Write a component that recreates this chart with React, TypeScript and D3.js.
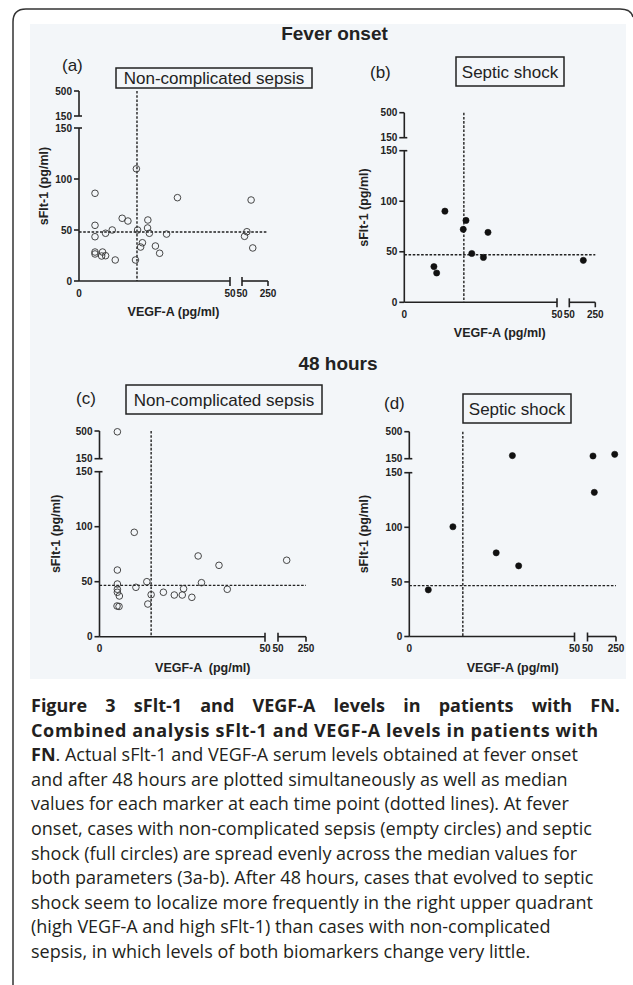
import React from 'react';
import * as d3 from 'd3';

const W = 633;
const H = 985;

// ---------- data ----------
// (a) Fever onset, non-complicated sepsis
const vegfA = [5.3, 19.0, 32.6, 5.3, 5.3, 5.3, 5.3, 7.8, 7.5, 8.8, 8.8, 11.0, 12.0, 14.3, 16.2, 18.7, 19.4, 20.4, 21.0, 22.8, 22.7, 23.3, 25.3, 26.7, 29.0, 69.5, 87.6, 120, 132.7];
const sfltA = [86, 110, 81.7, 54.6, 43.4, 28.4, 26.5, 28.4, 24.5, 24.8, 46.8, 50, 20.6, 61.5, 58.8, 20.6, 50, 33.3, 37.5, 59.8, 52, 46.8, 34.3, 27.2, 46, 43.8, 48.3, 79.4, 32.4];
// (b) Fever onset, septic shock
const vegfB = [13.3, 9.7, 10.6, 19.3, 20.2, 22.1, 25.9, 27.4, 157.7];
const sfltB = [90.2, 35.3, 29, 72.2, 81, 48.3, 44.4, 69.2, 41.5];
// (c) 48 hours, non-complicated sepsis
const vegfC = [5.4, 10.5, 5.4, 5.4, 5.4, 5.4, 6.0, 11.0, 14.3, 15.6, 14.6, 5.3, 5.9, 19.3, 22.6, 25.0, 25.4, 27.9, 29.8, 30.8, 36.1, 38.6, 112];
const sfltC = [490, 94.9, 60.6, 47.9, 43.1, 40.4, 37, 44.9, 50, 38.2, 29.7, 27.9, 27.5, 40.4, 37.9, 37.9, 43.6, 35.8, 73.4, 49.1, 64.9, 43.1, 69.5];
// (d) 48 hours, septic shock
const vegfD = [5.75, 13.2, 26.3, 33.1, 31.2, 88.6, 97.7, 241];
const sfltD = [42.7, 100.5, 76.6, 64.7, 190, 185, 132, 207];

// medians (dotted lines) for panels a, b, c, d
const medianVegf = [19.2, 19.5, 15.6, 16.2];
const medianSflt = [48, 47, 46.7, 46.6];

// ticks / labels
const yLowerTicks = [0, 50, 100, 150];
const yUpperTicks = [150, 500];
const xTickValues = [0, 50, 50, 250];
const xTickLabels = ['0', '50', '50', '250'];
const panelLetters = ['(a)', '(b)', '(c)', '(d)'];
const groupLabels = ['Non-complicated sepsis', 'Septic shock', 'Non-complicated sepsis', 'Septic shock'];
const sectionTitles = ['Fever onset', '48 hours'];
const yTitle = 'sFlt-1 (pg/ml)';
const xTitles = ['VEGF-A (pg/ml)', 'VEGF-A (pg/ml)', 'VEGF-A  (pg/ml)', 'VEGF-A (pg/ml)'];

const captionLines = [
  'Figure 3 sFlt-1 and VEGF-A levels in patients with FN.',
  'Combined analysis sFlt-1 and VEGF-A levels in patients with',
  'FN|. Actual sFlt-1 and VEGF-A serum levels obtained at fever onset',
  'and after 48 hours are plotted simultaneously as well as median',
  'values for each marker at each time point (dotted lines). At fever',
  'onset, cases with non-complicated sepsis (empty circles) and septic',
  'shock (full circles) are spread evenly across the median values for',
  'both parameters (3a-b). After 48 hours, cases that evolved to septic',
  'shock seem to localize more frequently in the right upper quadrant',
  '(high VEGF-A and high sFlt-1) than cases with non-complicated',
  'sepsis, in which levels of both biomarkers change very little.',
];

// ---------- layout (pixels) ----------
const layouts = [
  { ax: 79, x50a: 230, x50b: 242, x250: 268, y0: 281, y150b: 128, y150a: 116, y500: 91,
    letterX: 62, letterY: 71, box: [116, 68, 196, 20], yTitleX: 43 },
  { ax: 404.3, x50a: 557, x50b: 569.3, x250: 595.3, y0: 302.3, y150b: 150.7, y150a: 137.7, y500: 112.7,
    letterX: 370, letterY: 78, box: [456, 57, 108, 29], yTitleX: 363 },
  { ax: 99.5, x50a: 265, x50b: 278, x250: 306, y0: 636.7, y150b: 471.7, y150a: 458.7, y500: 431,
    letterX: 76, letterY: 404, box: [126, 385, 196, 29], yTitleX: 55 },
  { ax: 409.3, x50a: 574.5, x50b: 587.5, x250: 616, y0: 636.5, y150b: 472.7, y150a: 458.7, y500: 431.7,
    letterX: 384, letterY: 409, box: [463, 394, 108, 29], yTitleX: 363 },
];

const INK = '#222';
const FONT = '"Liberation Sans", Arial, sans-serif';
const CAP_FONT = '"Open Sans", sans-serif';

function Panel({ L, vegf, sflt, filled, medX, medY, letter, group, xTitle }: any) {
  const xLo = d3.scaleLinear().domain([0, 50]).range([L.ax, L.x50a]);
  const xHi = d3.scaleLinear().domain([50, 250]).range([L.x50b, L.x250]);
  const yLo = d3.scaleLinear().domain([0, 150]).range([L.y0, L.y150b]);
  const yHi = d3.scaleLinear().domain([150, 500]).range([L.y150a, L.y500]);
  const px = (v: number) => (v <= 50 ? xLo(v) : xHi(v));
  const py = (v: number) => (v <= 150 ? yLo(v) : yHi(v));
  const xTickPos = xTickValues.map((v, i) => (i >= 2 ? xHi(v) : xLo(v)));
  const [bx, by, bw, bh] = L.box;
  const sw = 1.6;
  return (
    <g>
      <text x={L.letterX} y={L.letterY} fontFamily={FONT} fontSize={17} fill={INK}>{letter}</text>
      <rect x={bx} y={by} width={bw} height={bh} fill="none" stroke={INK} strokeWidth={1.5} />
      <text x={bx + bw / 2} y={by + bh / 2 + 6} textAnchor="middle" fontFamily={FONT} fontSize={17} fill={INK}>{group}</text>

      {/* median lines */}
      <line x1={xLo(medX)} x2={xLo(medX)} y1={L.y500} y2={L.y0} stroke={INK} strokeWidth={1.4} strokeDasharray="2.6,1.6" />
      <line x1={L.ax} x2={L.x250} y1={yLo(medY)} y2={yLo(medY)} stroke={INK} strokeWidth={1.4} strokeDasharray="2.6,1.6" />

      {/* y axis */}
      <line x1={L.ax} x2={L.ax} y1={L.y0} y2={L.y150b} stroke={INK} strokeWidth={sw} />
      <line x1={L.ax} x2={L.ax} y1={L.y150a} y2={L.y500} stroke={INK} strokeWidth={sw} />
      {yLowerTicks.map((t, i) => (
        <g key={'yl' + i}>
          <line x1={L.ax - 5} x2={t === 150 ? L.ax + 3 : L.ax} y1={yLo(t)} y2={yLo(t)} stroke={INK} strokeWidth={sw} />
          <text x={L.ax - 7} y={yLo(t) + 3.6} textAnchor="end" fontFamily={FONT} fontSize={10} fontWeight="bold" fill={INK}>{t}</text>
        </g>
      ))}
      {yUpperTicks.map((t, i) => (
        <g key={'yu' + i}>
          <line x1={L.ax - 5} x2={t === 150 ? L.ax + 3 : L.ax} y1={yHi(t)} y2={yHi(t)} stroke={INK} strokeWidth={sw} />
          <text x={L.ax - 7} y={yHi(t) + 3.6} textAnchor="end" fontFamily={FONT} fontSize={10} fontWeight="bold" fill={INK}>{t}</text>
        </g>
      ))}

      {/* x axis */}
      <line x1={L.ax} x2={L.x50a} y1={L.y0} y2={L.y0} stroke={INK} strokeWidth={sw} />
      <line x1={L.x50b} x2={L.x250} y1={L.y0} y2={L.y0} stroke={INK} strokeWidth={sw} />
      {xTickPos.map((x, i) => (
        <g key={'xt' + i}>
          {i > 0 && (
            <line x1={x} x2={x} y1={i === 3 ? L.y0 : L.y0 - 4} y2={L.y0 + 5} stroke={INK} strokeWidth={sw} />
          )}
          <text x={x} y={L.y0 + 15.5} textAnchor="middle" fontFamily={FONT} fontSize={10} fontWeight="bold" fill={INK}>{xTickLabels[i]}</text>
        </g>
      ))}

      {/* axis titles */}
      <text transform={`translate(${L.yTitleX + 4.5},${(L.y0 + L.y500) / 2}) rotate(-90)`} textAnchor="middle"
        fontFamily={FONT} fontSize={12.5} fontWeight="bold" fill={INK}>{yTitle}</text>
      <text x={(L.ax + L.x250) / 2} y={L.y0 + 35} textAnchor="middle" fontFamily={FONT} fontSize={12.5}
        fontWeight="bold" fill={INK} style={{ whiteSpace: 'pre' }}>{xTitle}</text>

      {/* points */}
      {vegf.map((v: number, i: number) => (
        <circle key={'p' + i} cx={px(v)} cy={py(sflt[i])} r={filled ? 3.1 : 3.3}
          fill={filled ? '#111' : 'none'} stroke={filled ? '#111' : '#333'} strokeWidth={filled ? 0.6 : 0.9} />
      ))}
    </g>
  );
}

function measure(text: string, font: string) {
  const c = document.createElement('canvas').getContext('2d');
  if (!c) return text.length * 9;
  c.font = font;
  return c.measureText(text).width;
}

function Caption() {
  const x0 = 31;
  const x1 = 620;
  const base = 712;
  const step = 24.6;
  const size = 18;
  const boldFont = `bold ${size}px "Open Sans"`;
  const words = captionLines[0].split(' ');
  const widths = words.map((w) => measure(w, boldFont));
  const gap = (x1 - x0 - d3.sum(widths)) / (words.length - 1);
  let cursor = x0;
  const placed = words.map((w, i) => {
    const x = cursor;
    cursor += widths[i] + gap;
    return { w, x };
  });
  return (
    <g fontFamily={CAP_FONT} fontSize={size} fill="#231f20">
      {placed.map((p, i) => (
        <text key={'w' + i} x={p.x} y={base} fontWeight="bold">{p.w}</text>
      ))}
      {captionLines.slice(1).map((line, i) => {
        const y = base + step * (i + 1);
        if (i === 0)
          return (
            <text key={'l' + i} x={x0} y={y} fontWeight="bold" textLength={598 - x0} lengthAdjust="spacing">{line}</text>
          );
        if (line.includes('|')) {
          const [b, r] = line.split('|');
          return (
            <text key={'l' + i} x={x0} y={y}>
              <tspan fontWeight="bold">{b}</tspan>
              <tspan>{r}</tspan>
            </text>
          );
        }
        return <text key={'l' + i} x={x0} y={y}>{line}</text>;
      })}
    </g>
  );
}

export default function App() {
  const panels = [
    { vegf: vegfA, sflt: sfltA, filled: false },
    { vegf: vegfB, sflt: sfltB, filled: true },
    { vegf: vegfC, sflt: sfltC, filled: false },
    { vegf: vegfD, sflt: sfltD, filled: true },
  ];
  return (
    <svg width={W} height={H} viewBox={`0 0 ${W} ${H}`} style={{ position: 'absolute', left: 0, top: 0, background: '#fff' }}>
      <rect x={0} y={0} width={W} height={H} fill="#fff" />
      <path d={`M13,${H + 5} L13,22 Q13,9 26,9 L620,9 Q631,9 633,17`} fill="none" stroke="#333" strokeWidth={1.5} />
      <rect x={30} y={24} width={596} height={655} fill="#f3f6f9" />
      <text x={334.5} y={40} textAnchor="middle" fontFamily={FONT} fontSize={19} fontWeight="bold" fill={INK}>{sectionTitles[0]}</text>
      <text x={338} y={370} textAnchor="middle" fontFamily={FONT} fontSize={19} fontWeight="bold" fill={INK}>{sectionTitles[1]}</text>
      {panels.map((p, i) => (
        <Panel key={i} L={layouts[i]} vegf={p.vegf} sflt={p.sflt} filled={p.filled}
          medX={medianVegf[i]} medY={medianSflt[i]} letter={panelLetters[i]} group={groupLabels[i]} xTitle={xTitles[i]} />
      ))}
      <Caption />
    </svg>
  );
}
